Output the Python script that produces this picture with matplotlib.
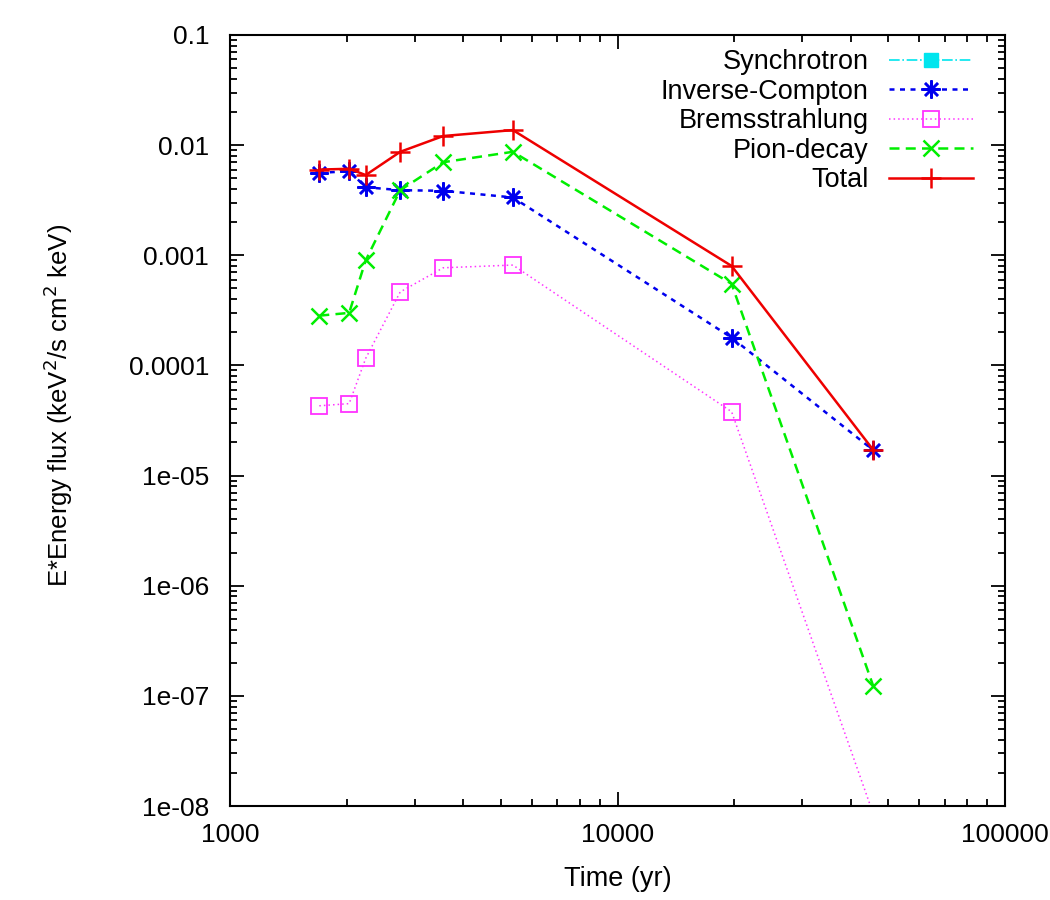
import numpy as np
import matplotlib
matplotlib.use('Agg')
import matplotlib.pyplot as plt
from matplotlib.ticker import LogLocator, FixedLocator, FixedFormatter

plt.rcParams['font.family'] = ['Liberation Sans', 'DejaVu Sans']

# idades (anos)
tempo = [1700, 2030, 2240, 2750, 3550, 5370, 19700, 45700]

sincrotron = []          # nada visivel no intervalo, so aparece na legenda
tempo_sinc = []
compton_inverso = [5.6e-3, 5.8e-3, 4.15e-3, 3.9e-3, 3.85e-3, 3.35e-3, 1.79e-4, 1.70e-5]
bremsstrahlung = [4.3e-5, 4.5e-5, 1.16e-4, 4.65e-4, 7.7e-4, 8.15e-4, 3.8e-5, 8.5e-9]
pion = [2.83e-4, 3.0e-4, 9.0e-4, 3.9e-3, 7.0e-3, 8.7e-3, 5.5e-4, 1.23e-7]
total = [6.0e-3, 6.1e-3, 5.35e-3, 8.7e-3, 1.21e-2, 1.37e-2, 8.0e-4, 1.71e-5]

rotulos_y = ['1e-08', '1e-07', '1e-06', '1e-05', '0.0001', '0.001', '0.01', '0.1']
rotulos_x = ['1000', '10000', '100000']

fig = plt.figure(figsize=(10.5, 9), dpi=100)
ax = fig.add_axes([230/1050, 1-806/900, 775/1050, 771/900])

asterisco = (8, 2, 0)

ax.plot(tempo_sinc, sincrotron, color='#00e5ee', ls='-.', lw=1.2, marker='s', ms=10, label='Synchrotron')
ax.plot(tempo, compton_inverso, color='#0000ee', ls=(0, (2, 2.2)), lw=1.8, marker=asterisco, ms=13, mew=1.8, label='Inverse-Compton')
ax.plot(tempo, bremsstrahlung, color='#ff33ff', ls=(0, (1, 2)), lw=1.1, marker='s', ms=11, mfc='none', mew=1.3, label='Bremsstrahlung')
ax.plot(tempo, pion, color='#00ee00', ls=(0, (4, 2.5)), lw=1.8, marker='x', ms=11, mew=1.8, label='Pion-decay')
ax.plot(tempo, total, color='#ee0000', ls='-', lw=1.8, marker='+', ms=14, mew=1.8, label='Total')

ax.set_xscale('log')
ax.set_yscale('log')
ax.set_xlim(1000, 100000)
ax.set_ylim(1e-8, 0.1)

ax.yaxis.set_major_locator(FixedLocator([10.0**k for k in range(-8, 0)]))
ax.yaxis.set_major_formatter(FixedFormatter(rotulos_y))
ax.xaxis.set_major_locator(FixedLocator([1e3, 1e4, 1e5]))
ax.xaxis.set_major_formatter(FixedFormatter(rotulos_x))
ax.xaxis.set_minor_locator(LogLocator(base=10, subs=np.arange(2, 10), numticks=20))
ax.yaxis.set_minor_locator(LogLocator(base=10, subs=np.arange(2, 10), numticks=20))
ax.xaxis.set_minor_formatter(plt.NullFormatter())
ax.yaxis.set_minor_formatter(plt.NullFormatter())

ax.tick_params(which='both', direction='in', top=True, right=True, labelsize=19, width=1.3)
ax.tick_params(which='major', length=10)
ax.tick_params(which='minor', length=5)
ax.tick_params(axis='y', which='major', pad=15)
ax.tick_params(axis='x', which='major', pad=12)
for lado in ax.spines.values():
    lado.set_linewidth(1.5)

ax.set_xlabel('Time (yr)', fontsize=19.5)
ax.set_ylabel('E*Energy flux (keV$^2$/s cm$^2$ keV)', fontsize=18.5)
ax.xaxis.set_label_coords(0.5, -0.078)
ax.yaxis.set_label_coords(-0.2, 0.519)

leg = ax.legend(loc='upper right', bbox_to_anchor=(973/1050, 1-49/900), bbox_transform=fig.transFigure,
                frameon=False, markerfirst=False, fontsize=19.5, handlelength=3.1,
                labelspacing=0.13, borderpad=0, borderaxespad=0, handletextpad=0.75)

plt.savefig('out.png', dpi=100)
